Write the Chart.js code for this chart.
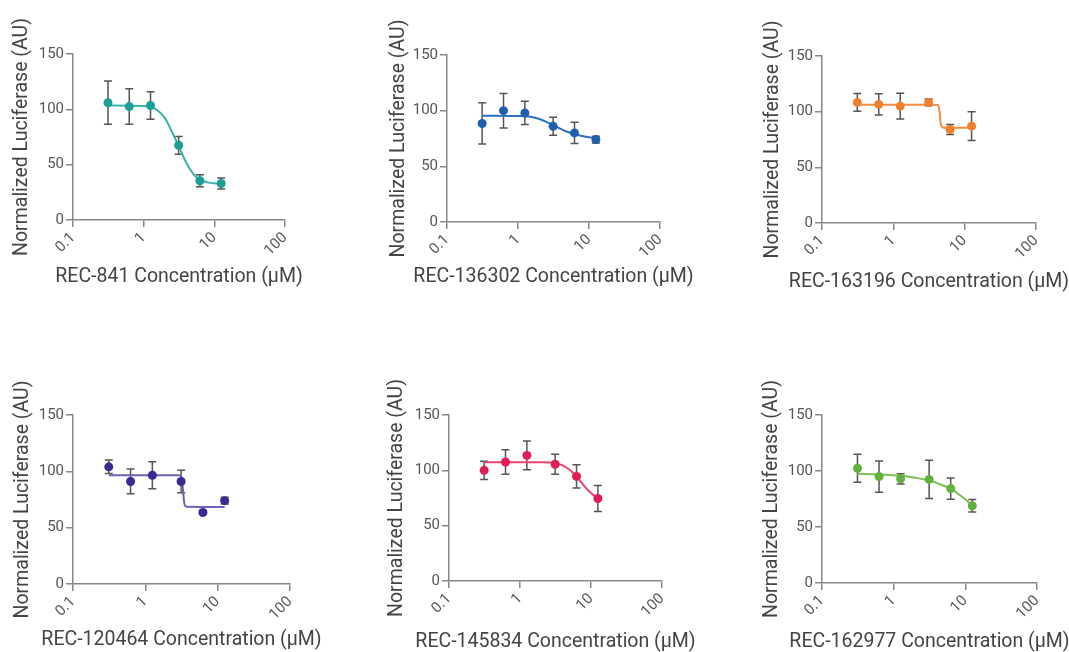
<!DOCTYPE html>
<html><head><meta charset="utf-8">
<script src="https://cdn.jsdelivr.net/npm/chart.js@4.4.1/dist/chart.umd.min.js"></script>
<style>
html,body{margin:0;padding:0;background:#fff;overflow:hidden;width:1069px;height:652px;position:relative;}
canvas.p{position:absolute;}
</style></head><body>
<script>
// ---------- DATA ----------
const concentrations = [0.3125, 0.625, 1.25, 3.125, 6.25, 12.5];
const xTickValues = [0.1, 1, 10, 100];
const xTickLabels = ['0.1', '1', '10', '100'];
const yTickValues = [0, 50, 100, 150];
const yTitle = 'Normalized Luciferase (AU)';
const compoundNames = ['REC-841', 'REC-136302', 'REC-163196', 'REC-120464', 'REC-145834', 'REC-162977'];

const rec841Mean = [106, 102.5, 103.5, 67.5, 35.5, 33];
const rec841Err  = [19.5, 16, 12.5, 8, 5.5, 5];
const rec841FitX = [0.3125, 1, 1.5, 2, 2.5, 3.125, 4, 5, 6.25, 8, 12.5];
const rec841FitY = [103.5, 103, 100, 92, 80, 67, 52, 42, 36.5, 34, 32.5];

const rec136302Mean = [88.5, 100, 98, 86, 80, 74];
const rec136302Err  = [18.5, 15.5, 10.5, 8, 9.5, 3];
const rec136302FitX = [0.3125, 1, 1.5, 2, 3.125, 4.5, 6.25, 9, 12.5];
const rec136302FitY = [95.5, 95.3, 94.5, 92.5, 87, 82, 79, 76.5, 75.5];

const rec163196Mean = [108.3, 106.5, 105, 108.3, 84, 87];
const rec163196Err  = [8, 9.5, 11.5, 3, 4.5, 13];
const rec163196FitX = [0.3125, 3.5, 4.2, 4.45, 4.6, 4.9, 5.5, 12.5];
const rec163196FitY = [106.3, 106.3, 106, 100, 90, 86, 85.6, 85.6];

const rec120464Mean = [104, 91, 96.5, 91, 63.5, 74];
const rec120464Err  = [6, 11, 12, 10, 1.5, 3];
const rec120464FitX = [0.3125, 2.9, 3.15, 3.3, 3.45, 3.7, 12.5];
const rec120464FitY = [96.5, 96.5, 95, 85, 72, 68.5, 68.3];

const rec145834Mean = [100, 107.5, 113.5, 105.5, 94.5, 74.5];
const rec145834Err  = [8.3, 11, 13, 9, 10.5, 11.7];
const rec145834FitX = [0.3125, 2, 3.125, 4, 5, 6.25, 8, 10, 12.5];
const rec145834FitY = [107.3, 107.2, 106.5, 104.5, 100.5, 94.5, 86, 79.5, 74.5];

const rec162977Mean = [102.5, 95, 93, 92.5, 84.3, 69];
const rec162977Err  = [12.5, 14, 4.5, 17, 9.5, 5.5];
const rec162977FitX = [0.3125, 0.625, 1.25, 2, 3.125, 4.5, 6.25, 9, 12.5];
const rec162977FitY = [97.5, 97, 95.8, 94, 91.5, 88, 84, 77, 69.5];

const seriesMeans = [rec841Mean, rec136302Mean, rec163196Mean, rec120464Mean, rec145834Mean, rec162977Mean];
const seriesErrs  = [rec841Err, rec136302Err, rec163196Err, rec120464Err, rec145834Err, rec162977Err];
const fitXs = [rec841FitX, rec136302FitX, rec163196FitX, rec120464FitX, rec145834FitX, rec162977FitX];
const fitYs = [rec841FitY, rec136302FitY, rec163196FitY, rec120464FitY, rec145834FitY, rec162977FitY];

// ---------- STYLE / LAYOUT ----------
const markerColors = ['#1b9e98', '#1f5fae', '#f07f2c', '#3a2a92', '#e11d55', '#62b03e'];
const lineColors   = ['#3ab1ab', '#2f6fc0', '#f28d42', '#6c62b8', '#e8436f', '#78bf55'];
// plot-area boxes: [left, right, top, bottom], y-title distance, x-title distance
const panels = [
  {l: 73,  r: 285,  t: 54,  b: 220, yd: 51, xd: 57},
  {l: 447, r: 660,  t: 55,  b: 222, yd: 48, xd: 55},
  {l: 822, r: 1036, t: 56,  b: 223, yd: 49, xd: 59},
  {l: 73,  r: 290,  t: 415, b: 584, yd: 50, xd: 56},
  {l: 449, r: 662,  t: 415, b: 581, yd: 52, xd: 61},
  {l: 822, r: 1037, t: 415, b: 583, yd: 50, xd: 59}
];
const FONT = 'Roboto, "Noto Sans", sans-serif';
const TOPPAD = 50, RIGHTPAD = 45;
const titleSize = 19.5, tickSize = 15;

const errorBarPlugin = {
  id: 'errorBars',
  beforeDatasetsDraw(chart) {
    const ds = chart.data.datasets[0];
    if (!ds.errors) return;
    const ctx = chart.ctx, xs = chart.scales.x, ys = chart.scales.y;
    ctx.save();
    ctx.strokeStyle = '#555';
    ctx.lineWidth = 1.5;
    ds.data.forEach((p, i) => {
      const e = ds.errors[i];
      const px = xs.getPixelForValue(p.x);
      const y1 = ys.getPixelForValue(p.y + e);
      const y2 = ys.getPixelForValue(p.y - e);
      ctx.beginPath();
      ctx.moveTo(px, y1); ctx.lineTo(px, y2);
      ctx.moveTo(px - 4, y1); ctx.lineTo(px + 4, y1);
      ctx.moveTo(px - 4, y2); ctx.lineTo(px + 4, y2);
      ctx.stroke();
    });
    ctx.restore();
  }
};

const axisTitlePlugin = {
  id: 'axisTitles',
  afterDraw(chart, args, opts) {
    const ctx = chart.ctx, a = chart.chartArea;
    ctx.save();
    ctx.fillStyle = '#444';
    ctx.font = titleSize + 'px ' + FONT;
    ctx.textAlign = 'center';
    ctx.textBaseline = 'middle';
    ctx.fillText(opts.xText, (a.left + a.right) / 2, a.bottom + opts.xd);
    ctx.translate(a.left - opts.yd, (a.top + a.bottom) / 2);
    ctx.rotate(-Math.PI / 2);
    ctx.fillText(opts.yText, 0, 0);
    ctx.restore();
  }
};

panels.forEach((pn, k) => {
  const yAxisW = pn.yd + 22;
  const xAxisH = pn.xd + 14;
  const W = yAxisW + (pn.r - pn.l) + RIGHTPAD;
  const H = TOPPAD + (pn.b - pn.t) + xAxisH;
  const cv = document.createElement('canvas');
  cv.className = 'p';
  cv.width = W; cv.height = H;
  cv.style.left = (pn.l - yAxisW) + 'px';
  cv.style.top = (pn.t - TOPPAD) + 'px';
  cv.style.width = W + 'px'; cv.style.height = H + 'px';
  document.body.appendChild(cv);

  const points = concentrations.map((c, i) => ({x: c, y: seriesMeans[k][i]}));
  const fit = fitXs[k].map((c, i) => ({x: c, y: fitYs[k][i]}));

  new Chart(cv, {
    type: 'scatter',
    data: {
      datasets: [
        {
          type: 'scatter', data: points, errors: seriesErrs[k],
          backgroundColor: markerColors[k], borderColor: markerColors[k],
          pointRadius: 4.5, pointHoverRadius: 4.5, borderWidth: 0
        },
        {
          type: 'line', data: fit, borderColor: lineColors[k], borderWidth: 2,
          pointRadius: 0, fill: false, cubicInterpolationMode: 'monotone', showLine: true
        }
      ]
    },
    options: {
      responsive: false, animation: false,
      layout: {padding: {left: 0, top: TOPPAD, right: RIGHTPAD, bottom: 0}},
      plugins: {
        legend: {display: false}, tooltip: {enabled: false},
        axisTitles: {xText: compoundNames[k] + ' Concentration (\u00b5M)', yText: yTitle, xd: pn.xd, yd: pn.yd}
      },
      scales: {
        x: {
          type: 'logarithmic', min: 0.1, max: 100, position: 'bottom',
          afterBuildTicks: s => { s.ticks = xTickValues.map(v => ({value: v})); },
          afterFit: s => { s.height = xAxisH; },
          ticks: {
            autoSkip: false, minRotation: 45, maxRotation: 45, padding: 2,
            color: '#555', font: {family: FONT, size: tickSize},
            callback: v => xTickLabels[xTickValues.indexOf(v)]
          },
          grid: {display: true, drawOnChartArea: false, drawTicks: true, tickLength: 7, color: '#888', lineWidth: 1.5},
          border: {display: true, color: '#888', width: 1.5},
          title: {display: false}
        },
        y: {
          type: 'linear', min: 0, max: 150, position: 'left',
          afterBuildTicks: s => { s.ticks = yTickValues.map(v => ({value: v})); },
          afterFit: s => { s.width = yAxisW; },
          ticks: {padding: 2, color: '#555', font: {family: FONT, size: tickSize}},
          grid: {display: true, drawOnChartArea: false, drawTicks: true, tickLength: 7, color: '#888', lineWidth: 1.5},
          border: {display: true, color: '#888', width: 1.5},
          title: {display: false}
        }
      }
    },
    plugins: [errorBarPlugin, axisTitlePlugin]
  });
});
</script>
</body></html>
